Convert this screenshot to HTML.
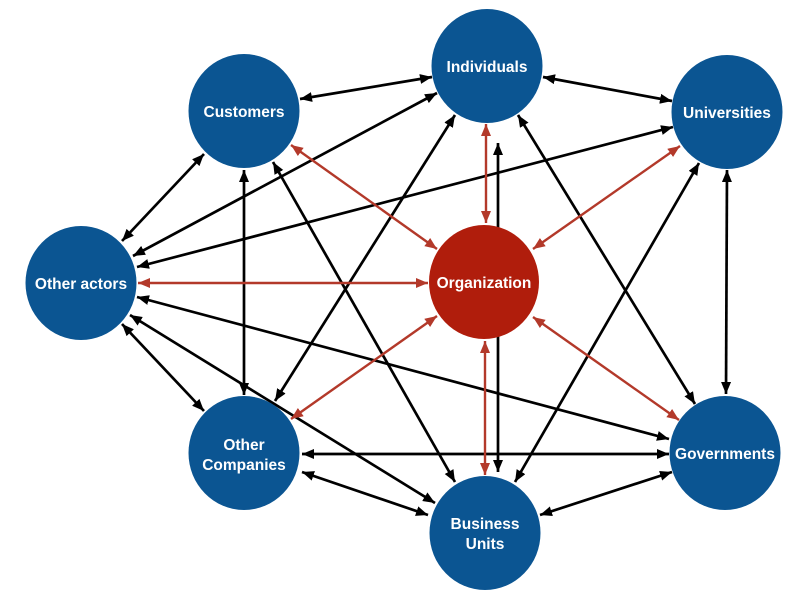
<!DOCTYPE html>
<html><head><meta charset="utf-8"><style>
html,body{margin:0;padding:0;background:#fff;}
svg{display:block;}
text{font-family:"Liberation Sans",Arial,sans-serif;font-weight:bold;font-size:15.5px;fill:#fff;text-anchor:middle;}
</style></head><body>
<svg width="800" height="592" viewBox="0 0 800 592" xmlns="http://www.w3.org/2000/svg">
<defs>
<marker id="ab" markerUnits="userSpaceOnUse" markerWidth="13" markerHeight="11" refX="12" refY="5" orient="auto-start-reverse"><path d="M0,0 L12,5 L0,10 z" fill="#000"/></marker>
<marker id="ar" markerUnits="userSpaceOnUse" markerWidth="13" markerHeight="11" refX="12" refY="5" orient="auto-start-reverse"><path d="M0,0 L12,5 L0,10 z" fill="#b3392a"/></marker>
</defs>
<g stroke="#000" stroke-width="2.7" fill="none" marker-start="url(#ab)" marker-end="url(#ab)">
<line x1="300" y1="99" x2="432" y2="77"/>
<line x1="543" y1="77" x2="672" y2="101"/>
<line x1="133" y1="256" x2="437" y2="93"/>
<line x1="137" y1="267" x2="673" y2="127"/>
<line x1="122" y1="241" x2="204" y2="154"/>
<line x1="244" y1="170" x2="244" y2="395"/>
<line x1="273" y1="162" x2="455" y2="482"/>
<line x1="275" y1="401" x2="455" y2="115"/>
<line x1="518" y1="115" x2="695" y2="404"/>
<line x1="699" y1="163" x2="515" y2="482"/>
<line x1="727" y1="170" x2="726" y2="394"/>
<line x1="498" y1="143" x2="498" y2="472"/>
<line x1="122" y1="324" x2="204" y2="411"/>
<line x1="130" y1="315" x2="435" y2="503"/>
<line x1="137" y1="297" x2="669" y2="439"/>
<line x1="302" y1="454" x2="669" y2="454"/>
<line x1="302" y1="472" x2="428" y2="515"/>
<line x1="540" y1="515" x2="672" y2="472"/>
</g>
<g stroke="#b3392a" stroke-width="2.4" fill="none" marker-start="url(#ar)" marker-end="url(#ar)">
<line x1="291" y1="145" x2="437" y2="249"/>
<line x1="486" y1="124" x2="486" y2="223"/>
<line x1="680" y1="146" x2="533" y2="249"/>
<line x1="138" y1="283" x2="428" y2="283"/>
<line x1="291" y1="419" x2="437" y2="316"/>
<line x1="485" y1="341" x2="485" y2="475"/>
<line x1="533" y1="317" x2="679" y2="420"/>
</g>
<g fill="#0b5592">
<ellipse cx="487" cy="66" rx="55.5" ry="57"/>
<ellipse cx="244" cy="111" rx="55.5" ry="57"/>
<ellipse cx="727" cy="112" rx="55.5" ry="57"/>
<ellipse cx="81" cy="283" rx="55.5" ry="57"/>
<ellipse cx="244" cy="453" rx="55.5" ry="57"/>
<ellipse cx="725" cy="453" rx="55.5" ry="57"/>
<ellipse cx="485" cy="533" rx="55.5" ry="57"/>
</g>
<ellipse cx="484" cy="282" rx="55" ry="57" fill="#b01d0c"/>
<text x="487" y="72">Individuals</text>
<text x="244" y="117">Customers</text>
<text x="727" y="118">Universities</text>
<text x="81" y="289">Other actors</text>
<text x="484" y="288">Organization</text>
<text x="244" y="450">Other</text>
<text x="244" y="470">Companies</text>
<text x="725" y="459">Governments</text>
<text x="485" y="529">Business</text>
<text x="485" y="549">Units</text>
</svg>
</body></html>
